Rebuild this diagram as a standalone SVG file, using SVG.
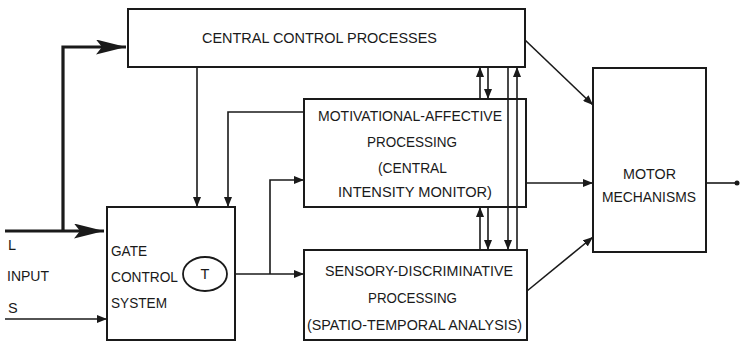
<svg xmlns="http://www.w3.org/2000/svg" width="741" height="342" viewBox="0 0 741 342">
<style>
.box{fill:#fff;stroke:#1a1a1a;stroke-width:2}
.ln{fill:none;stroke:#1a1a1a;stroke-width:1.6}
.thick{fill:none;stroke:#1a1a1a;stroke-width:3.2}
.t{font-family:"Liberation Sans",Arial,sans-serif;font-size:14.5px;fill:#1a1a1a}
.m{text-anchor:middle}
</style>
<defs>
<marker id="ah" markerUnits="userSpaceOnUse" viewBox="0 0 10 8" refX="10" refY="4" markerWidth="10" markerHeight="8" orient="auto">
<path d="M0,0 L10,4 L0,8 z" fill="#1a1a1a"/>
</marker>
<marker id="big" markerUnits="userSpaceOnUse" viewBox="0 0 30 15" refX="30" refY="7.5" markerWidth="30" markerHeight="15" orient="auto">
<path d="M0,0 L30,7.5 L0,15 L6,7.5 z" fill="#1a1a1a"/>
</marker>
</defs>
<rect width="741" height="342" fill="#fff"/>

<g id="connectors">
<polyline class="thick" points="5,231 104,231" marker-end="url(#big)"/>
<polyline class="thick" points="63,231 63,47 126,47" marker-end="url(#big)"/>
<line class="ln" x1="5" y1="319" x2="107" y2="319" marker-end="url(#ah)"/>
<line class="ln" x1="197" y1="67" x2="197" y2="207" marker-end="url(#ah)"/>
<polyline class="ln" points="304,112 228,112 228,207" marker-end="url(#ah)"/>
<line class="ln" x1="227" y1="274" x2="304" y2="274" marker-end="url(#ah)"/>
<polyline class="ln" points="270,274 270,180 304,180" marker-end="url(#ah)"/>
<line class="ln" x1="480" y1="99" x2="480" y2="67" marker-end="url(#ah)"/>
<line class="ln" x1="488" y1="67" x2="488" y2="99" marker-end="url(#ah)"/>
<line class="ln" x1="508" y1="67" x2="508" y2="250" marker-end="url(#ah)"/>
<line class="ln" x1="517" y1="250" x2="517" y2="67" marker-end="url(#ah)"/>
<line class="ln" x1="480" y1="250" x2="480" y2="207" marker-end="url(#ah)"/>
<line class="ln" x1="488" y1="207" x2="488" y2="250" marker-end="url(#ah)"/>
<line class="ln" x1="525" y1="40" x2="593" y2="105" marker-end="url(#ah)"/>
<line class="ln" x1="527" y1="183" x2="593" y2="183" marker-end="url(#ah)"/>
<line class="ln" x1="527" y1="291" x2="593" y2="237" marker-end="url(#ah)"/>
<line class="ln" x1="706" y1="183" x2="737" y2="183"/>
<circle cx="737" cy="183" r="2.5" fill="#1a1a1a"/>
</g>

<g id="central-control">
<rect class="box" x="128" y="9" width="397" height="58"/>
<text class="t" x="202" y="43" textLength="235" lengthAdjust="spacingAndGlyphs">CENTRAL  CONTROL  PROCESSES</text>
</g>

<g id="motivational">
<rect class="box" x="304" y="99" width="222" height="108" style="fill:none"/>
<text class="t" x="318" y="121" textLength="184" lengthAdjust="spacingAndGlyphs">MOTIVATIONAL-AFFECTIVE</text>
<text class="t" x="367" y="147" textLength="90" lengthAdjust="spacingAndGlyphs">PROCESSING</text>
<text class="t" x="378" y="173" textLength="69" lengthAdjust="spacingAndGlyphs">(CENTRAL</text>
<text class="t" x="338" y="197" textLength="154" lengthAdjust="spacingAndGlyphs">INTENSITY  MONITOR)</text>
</g>

<g id="sensory">
<rect class="box" x="304" y="250" width="223" height="90"/>
<text class="t" x="325" y="276" textLength="188" lengthAdjust="spacingAndGlyphs">SENSORY-DISCRIMINATIVE</text>
<text class="t" x="368" y="303" textLength="89" lengthAdjust="spacingAndGlyphs">PROCESSING</text>
<text class="t" x="307" y="330" textLength="215" lengthAdjust="spacingAndGlyphs">(SPATIO-TEMPORAL ANALYSIS)</text>
</g>

<g id="gate-control">
<rect class="box" x="107" y="207" width="128" height="133"/>
<text class="t" x="111" y="256" textLength="36" lengthAdjust="spacingAndGlyphs">GATE</text>
<text class="t" x="111" y="282" textLength="67" lengthAdjust="spacingAndGlyphs">CONTROL</text>
<text class="t" x="111" y="308" textLength="56" lengthAdjust="spacingAndGlyphs">SYSTEM</text>
<ellipse cx="205" cy="274" rx="22" ry="17" fill="#fff" stroke="#1a1a1a" stroke-width="1.8"/>
<text class="t m" x="205" y="279">T</text>
</g>

<g id="motor">
<rect class="box" x="593" y="68" width="113" height="184"/>
<text class="t" x="623" y="179" textLength="53" lengthAdjust="spacingAndGlyphs">MOTOR</text>
<text class="t" x="602" y="202" textLength="94" lengthAdjust="spacingAndGlyphs">MECHANISMS</text>
</g>

<g id="input-labels">
<text class="t" x="8" y="250">L</text>
<text class="t" x="7" y="281" textLength="42" lengthAdjust="spacingAndGlyphs">INPUT</text>
<text class="t" x="8" y="313">S</text>
</g>
</svg>
